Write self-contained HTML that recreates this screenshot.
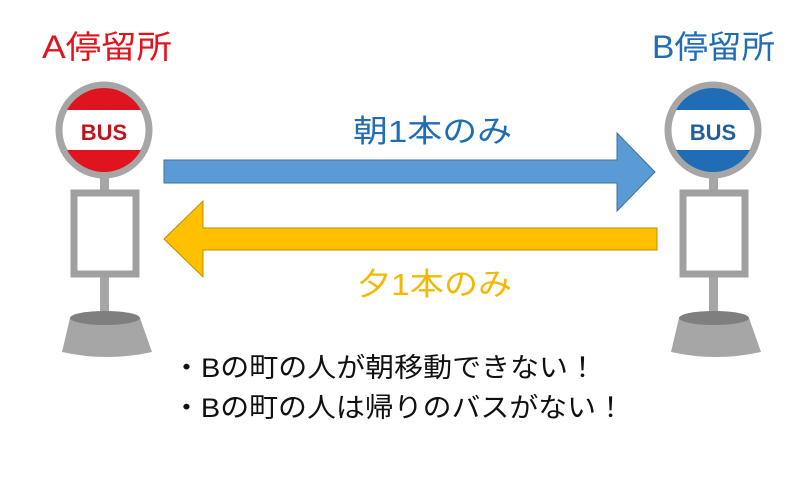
<!DOCTYPE html>
<html><head><meta charset="utf-8"><style>
body{margin:0;width:800px;height:494px;background:#fff;overflow:hidden}
svg text{font-family:"Liberation Sans","Noto Sans CJK JP",sans-serif}
</style></head><body>
<svg width="800" height="494" viewBox="0 0 800 494">
<defs>
<clipPath id="ca"><circle cx="104" cy="130" r="42"/></clipPath>
<clipPath id="cb"><circle cx="713" cy="130" r="42"/></clipPath>
</defs>
<text x="42" y="58" font-size="32" fill="#e0141e" textLength="130" lengthAdjust="spacingAndGlyphs">A停留所</text>
<text x="652" y="58" font-size="32" fill="#1f6db5" textLength="123" lengthAdjust="spacingAndGlyphs">B停留所</text>
<!-- stop A -->
<g>
<rect x="100" y="175" width="9" height="140" fill="#a6a6a6"/>
<rect x="74" y="193" width="62" height="81" fill="#fff" stroke="#a0a0a0" stroke-width="7"/>
<path d="M70 318 L62 352 Q107 362 152 352 L140 318 Z" fill="#a6a6a6"/>
<ellipse cx="105" cy="318" rx="35" ry="7" fill="#7f7f7f"/>
<circle cx="104" cy="130" r="45" fill="#fff" stroke="#a6a6a6" stroke-width="7"/>
<g clip-path="url(#ca)"><rect x="50" y="80" width="110" height="30" fill="#e0141e"/><rect x="50" y="150" width="110" height="40" fill="#e0141e"/></g>
<text x="104" y="140" font-size="22" font-weight="bold" fill="#c0141e" text-anchor="middle">BUS</text>
</g>
<!-- stop B -->
<g>
<rect x="709" y="175" width="9" height="140" fill="#a6a6a6"/>
<rect x="683" y="193" width="62" height="81" fill="#fff" stroke="#a0a0a0" stroke-width="7"/>
<path d="M679 318 L671 352 Q716 362 761 352 L749 318 Z" fill="#a6a6a6"/>
<ellipse cx="714" cy="318" rx="35" ry="7" fill="#7f7f7f"/>
<circle cx="713" cy="130" r="45" fill="#fff" stroke="#a6a6a6" stroke-width="7"/>
<g clip-path="url(#cb)"><rect x="660" y="80" width="110" height="30" fill="#1f6db5"/><rect x="660" y="150" width="110" height="40" fill="#1f6db5"/></g>
<text x="713" y="140" font-size="22" font-weight="bold" fill="#1f5f9e" text-anchor="middle">BUS</text>
</g>
<!-- arrows -->
<path d="M164 160 L617 160 L617 133 L655 172 L617 211 L617 183 L164 183 Z" fill="#5b9bd5" stroke="#41719c" stroke-width="1"/>
<path d="M657 228 L203 228 L203 201 L164 239 L203 277 L203 250 L657 250 Z" fill="#ffc000" stroke="#bc8c00" stroke-width="1"/>
<text x="353" y="142" font-size="31" fill="#1f6db5" textLength="159" lengthAdjust="spacingAndGlyphs">朝1本のみ</text>
<text x="357" y="295" font-size="31" fill="#f5b800" textLength="155" lengthAdjust="spacingAndGlyphs">夕1本のみ</text>
<text x="172" y="377" font-size="27" fill="#111" textLength="425" lengthAdjust="spacingAndGlyphs">・Bの町の人が朝移動できない！</text>
<text x="172" y="417" font-size="27" fill="#111" textLength="453" lengthAdjust="spacingAndGlyphs">・Bの町の人は帰りのバスがない！</text>
</svg>
</body></html>
